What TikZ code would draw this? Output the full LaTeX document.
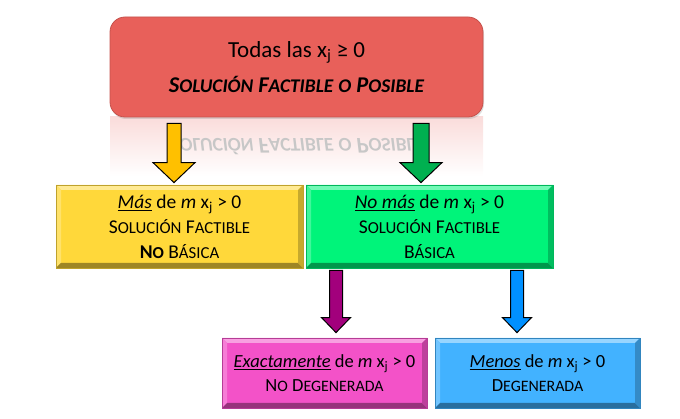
\documentclass[tikz,border=0pt]{standalone}
\usepackage{fontspec}
\setmainfont{Carlito}
\usepackage{graphicx}
\usetikzlibrary{calc,shadows}

\definecolor{topred}{HTML}{E8605A}
\definecolor{boxyel}{HTML}{FFD83A}
\definecolor{boxgrn}{HTML}{00F47A}
\definecolor{boxpnk}{HTML}{F352C8}
\definecolor{boxblu}{HTML}{42B2FF}
\definecolor{arryel}{HTML}{FFC000}
\definecolor{arrgrn}{HTML}{00B050}
\definecolor{arrpur}{HTML}{A2007C}
\definecolor{arrblu}{HTML}{0090FF}

% fake small caps: first letter, then smaller capitals
\newcommand{\fsc}[2]{#1\scalebox{0.86}{#2}}
\newcommand{\xj}{x\textsubscript{j}}
\newcommand{\solpos}{\fsc{S}{OLUCIÓN} \fsc{F}{ACTIBLE} \scalebox{0.86}{O} \fsc{P}{OSIBLE}}
% block arrow: colour, shaft half width, head half width, head length, from, to
\newcommand{\blockarrow}[6]{%
  \draw[black, line width=1pt, line join=miter, fill=#1] let \p1=#5, \p2=#6 in
    (\x1-#2,\y1) -- (\x1+#2,\y1) -- (\x1+#2,\y2+#4) -- (\x1+#3,\y2+#4)
    -- (\x1,\y2) -- (\x1-#3,\y2+#4) -- (\x1-#2,\y2+#4) -- cycle;}

\tikzset{
  bevelbox/.style={fill=#1, draw=#1!75!black, line width=0.8pt, inner sep=0pt, align=center,
    path picture={
      \fill[#1!55!white] (path picture bounding box.north west) -- (path picture bounding box.north east)
        -- ([shift={(-5pt,-5pt)}]path picture bounding box.north east) -- ([shift={(5pt,-5pt)}]path picture bounding box.north west) -- cycle;
      \fill[#1!75!white] (path picture bounding box.north west) -- ([shift={(5pt,-5pt)}]path picture bounding box.north west)
        -- ([shift={(5pt,5pt)}]path picture bounding box.south west) -- (path picture bounding box.south west) -- cycle;
      \fill[#1!62!black] (path picture bounding box.south west) -- (path picture bounding box.south east)
        -- ([shift={(-5pt,5pt)}]path picture bounding box.south east) -- ([shift={(5pt,5pt)}]path picture bounding box.south west) -- cycle;
      \fill[#1!78!black] (path picture bounding box.north east) -- ([shift={(-5pt,-5pt)}]path picture bounding box.north east)
        -- ([shift={(-5pt,5pt)}]path picture bounding box.south east) -- (path picture bounding box.south east) -- cycle;
    }},
  bigbox/.style={bevelbox=#1, minimum width=247pt, minimum height=83pt, font=\fontsize{19.5}{25}\selectfont},
  smallbox/.style={bevelbox=#1, minimum width=205pt, minimum height=70pt, font=\fontsize{18.5}{24}\selectfont}
}

\begin{document}
\begin{tikzpicture}[x=1pt, y=-1pt]
	\useasboundingbox (0,0) rectangle (680,419);
	% reflection of the top box
	\shade[top color=topred!22, bottom color=white] (110,117) rectangle (483,176);
	\node[yscale=-1, text=black!22, font=\fontsize{22.5}{26}\selectfont\bfseries\itshape] (mirror) at (296.5,147)
		{\solpos};
	% top box
	\node[fill=topred, draw=topred!85!black, line width=0.8pt, rounded corners=15pt,
		minimum width=373pt, minimum height=100pt, align=center,
		drop shadow={opacity=0.25, shadow xshift=1pt, shadow yshift=-2pt}] (top) at (296.5,67)
		{{\fontsize{23}{26}\selectfont Todas las \xj{} ≥ 0}\\[12pt]
		 {\fontsize{22.5}{26}\selectfont\bfseries\itshape \solpos}};
	% second level
	\node[bigbox=boxyel] (yel) at (179.5,226.5)
		{\underline{\textit{Más}} de \textit{m} \xj{} > 0\\ \fsc{S}{OLUCIÓN} \fsc{F}{ACTIBLE}\\ \textbf{\fsc{N}{O}} \fsc{B}{ÁSICA}};
	\node[bigbox=boxgrn] (grn) at (429.5,226.5)
		{\underline{\textit{No más}} de \textit{m} \xj{} > 0\\ \fsc{S}{OLUCIÓN} \fsc{F}{ACTIBLE}\\ \fsc{B}{ÁSICA}};
	% third level
	\node[smallbox=boxpnk] (pnk) at (324.5,373)
		{\underline{\textit{Exactamente}} de \textit{m} \xj{} > 0\\ \fsc{N}{O} \fsc{D}{EGENERADA}};
	\node[smallbox=boxblu] (blu) at (537.5,373)
		{\underline{\textit{Menos}} de \textit{m} \xj{} > 0\\ \fsc{D}{EGENERADA}};
	% arrows
	\blockarrow{arryel}{7pt}{21pt}{20pt}{($(yel.north |- top.south)+(-5.5,6)$)}{($(yel.north)+(-5.5,-2)$)}
	\blockarrow{arrgrn}{8pt}{21pt}{20pt}{($(grn.north |- top.south)+(-8.5,6)$)}{($(grn.north)+(-8.5,-2)$)}
	\blockarrow{arrpur}{6.5pt}{14.5pt}{15pt}{($(pnk.north |- grn.south)+(11.5,2)$)}{($(pnk.north)+(11.5,-5)$)}
	\blockarrow{arrblu}{6.5pt}{14.5pt}{15pt}{($(blu.north |- grn.south)+(-20.5,2)$)}{($(blu.north)+(-20.5,-5)$)}
\end{tikzpicture}
\end{document}
